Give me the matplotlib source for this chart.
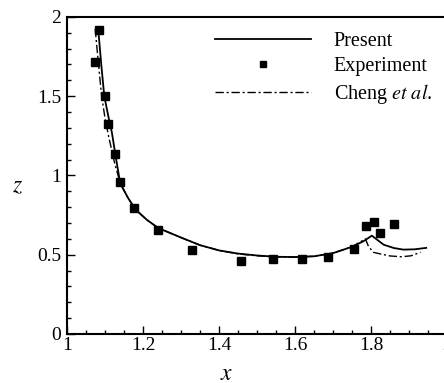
import numpy as np
import matplotlib.pyplot as plt
from matplotlib.ticker import MultipleLocator

plt.rcParams['font.family'] = ['Liberation Serif', 'DejaVu Serif']
plt.rcParams['mathtext.fontset'] = 'stix'

# Present computation
present_x = [1.082, 1.090, 1.098, 1.108, 1.118, 1.130, 1.140, 1.160, 1.180, 1.210,
             1.240, 1.300, 1.350, 1.400, 1.450, 1.500, 1.550, 1.600, 1.650, 1.700,
             1.750, 1.780, 1.802, 1.833, 1.860, 1.885, 1.915, 1.945]
present_z = [1.924, 1.700, 1.500, 1.380, 1.270, 1.090, 0.950, 0.860, 0.785, 0.720,
             0.668, 0.608, 0.560, 0.527, 0.507, 0.495, 0.487, 0.485, 0.490, 0.510,
             0.550, 0.585, 0.620, 0.563, 0.542, 0.532, 0.534, 0.543]

# experiment points
exp_x = [1.085, 1.073, 1.100, 1.107, 1.125, 1.140, 1.176, 1.239, 1.328, 1.458,
         1.542, 1.619, 1.686, 1.754, 1.787, 1.808, 1.824, 1.860]
exp_z = [1.918, 1.715, 1.498, 1.323, 1.135, 0.956, 0.795, 0.654, 0.532, 0.460,
         0.473, 0.471, 0.487, 0.536, 0.684, 0.705, 0.635, 0.696]

# Cheng et al.
cheng_x = [1.074, 1.082, 1.091, 1.100, 1.110, 1.125, 1.140, 1.160, 1.180, 1.210,
           1.240, 1.300, 1.350, 1.400, 1.450, 1.500, 1.550, 1.600, 1.650, 1.700,
           1.750, 1.785, 1.793, 1.806, 1.824, 1.850, 1.880, 1.905, 1.930]
cheng_z = [1.924, 1.720, 1.500, 1.360, 1.240, 1.080, 0.950, 0.860, 0.785, 0.720,
           0.668, 0.608, 0.560, 0.527, 0.505, 0.493, 0.486, 0.485, 0.490, 0.510,
           0.550, 0.600, 0.553, 0.515, 0.505, 0.492, 0.487, 0.493, 0.515]

fig = plt.figure(figsize=(4.44, 3.83), dpi=100)
ax = fig.add_axes([0.151, 0.128, 0.856, 0.828])

ax.plot(present_x, present_z, '-', color='black', lw=1.3, label='Present')
ax.plot(exp_x, exp_z, 's', color='black', ms=5.5, ls='none', label='Experiment')
ax.plot(cheng_x, cheng_z, color='black', lw=1.0, dashes=(6, 2, 1.5, 2),
        label='Cheng $\\mathit{et\\ al}$.')

ax.set_xlim(1, 2)
ax.set_ylim(0, 2)
ax.xaxis.set_major_locator(MultipleLocator(0.2))
ax.xaxis.set_minor_locator(MultipleLocator(0.05))
ax.yaxis.set_major_locator(MultipleLocator(0.5))
ax.yaxis.set_minor_locator(MultipleLocator(0.1))
ax.xaxis.set_major_formatter(plt.FuncFormatter(lambda v, p: f'{v:g}'))
ax.yaxis.set_major_formatter(plt.FuncFormatter(lambda v, p: f'{v:g}'))
ax.tick_params(which='both', direction='in', labelsize=14, width=1)
ax.tick_params(which='major', length=6)
ax.tick_params(which='minor', length=3)
ax.tick_params(axis='x', pad=2)
ax.tick_params(axis='y', pad=4)
for s in ax.spines.values():
    s.set_linewidth(1.5)

ax.set_xlabel('$x$', fontsize=17)
ax.set_ylabel('$z$', fontsize=17, rotation=0)
ax.xaxis.set_label_coords(0.42, -0.095)
ax.yaxis.set_label_coords(-0.13, 0.43)

ax.legend(loc='upper right', bbox_to_anchor=(432 / 444, 1 - 32 / 383),
          bbox_transform=fig.transFigure, frameon=False, fontsize=14.5,
          handlelength=4.8, handletextpad=1.1, labelspacing=0.3,
          markerscale=0.7, borderpad=0, borderaxespad=0)

plt.savefig('out.png', dpi=100)
